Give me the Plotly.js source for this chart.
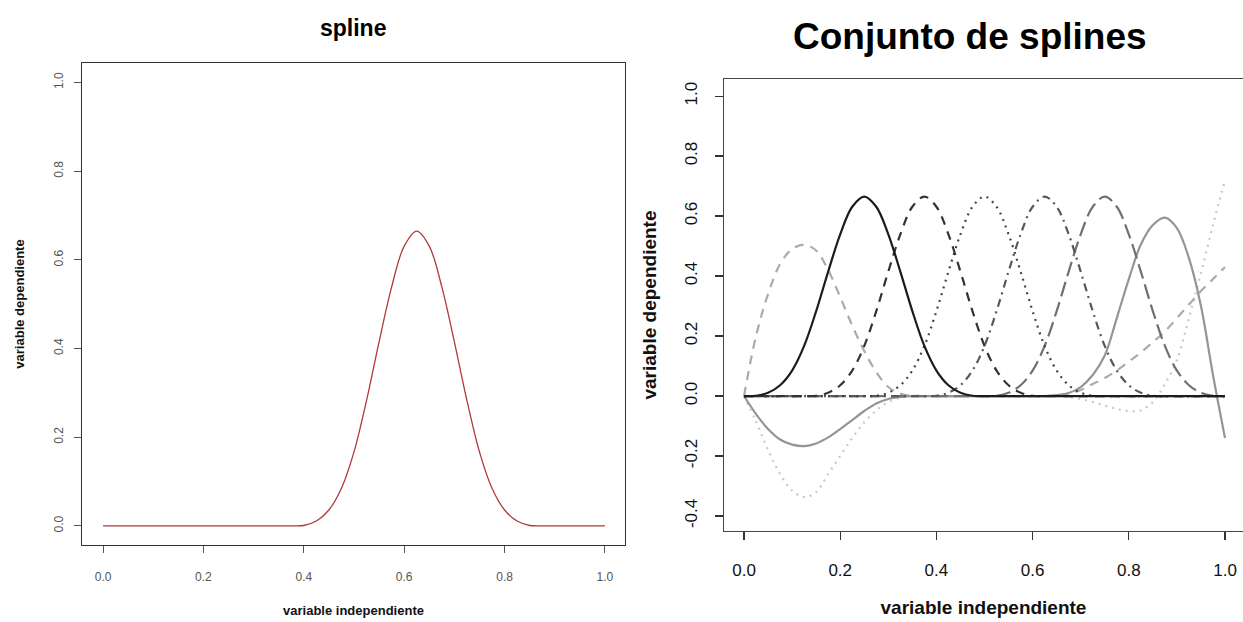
<!DOCTYPE html>
<html>
<head>
<meta charset="utf-8">
<script src="https://cdn.plot.ly/plotly-3.0.1.min.js"></script>
<style>
html,body{margin:0;padding:0;background:#fff;}
#chart{width:1243px;height:622px;}
</style>
</head>
<body>
<div id="chart"></div>
<script>
// Shared x grid (variable independiente)
const xGrid = [0,0.025,0.05,0.075,0.1,0.125,0.15,0.175,0.2,0.225,0.25,0.275,0.3,0.325,0.35,0.375,0.4,0.425,0.45,0.475,0.5,0.525,0.55,0.575,0.6,0.625,0.65,0.675,0.7,0.725,0.75,0.775,0.8,0.825,0.85,0.875,0.9,0.925,0.95,0.975,1];

// Left panel: single spline
const splineSingle = [0,0,0,0,0,0,0,0,0,0,0,0,0,0,0,0,0.001,0.011,0.036,0.085,0.167,0.283,0.415,0.539,0.631,0.665,0.631,0.539,0.415,0.283,0.167,0.085,0.036,0.011,0.001,0,0,0,0,0,0];

// Right panel: set of splines
const sBlack = [0,0.001,0.011,0.036,0.085,0.167,0.283,0.415,0.539,0.631,0.665,0.631,0.539,0.415,0.283,0.167,0.085,0.036,0.011,0.001,0,0,0,0,0,0,0,0,0,0,0,0,0,0,0,0,0,0,0,0,0];
const sDashed = [0,0,0,0,0,0,0.001,0.011,0.036,0.085,0.167,0.283,0.415,0.539,0.631,0.665,0.631,0.539,0.415,0.283,0.167,0.085,0.036,0.011,0.001,0,0,0,0,0,0,0,0,0,0,0,0,0,0,0,0];
const sDotted = [0,0,0,0,0,0,0,0,0,0,0,0.001,0.011,0.036,0.085,0.167,0.283,0.415,0.539,0.631,0.665,0.631,0.539,0.415,0.283,0.167,0.085,0.036,0.011,0.001,0,0,0,0,0,0,0,0,0,0,0];
const sDashDot = [0,0,0,0,0,0,0,0,0,0,0,0,0,0,0,0,0.001,0.011,0.036,0.085,0.167,0.283,0.415,0.539,0.631,0.665,0.631,0.539,0.415,0.283,0.167,0.085,0.036,0.011,0.001,0,0,0,0,0,0];
const sLongDash = [0,0,0,0,0,0,0,0,0,0,0,0,0,0,0,0,0,0,0,0,0,0.001,0.011,0.036,0.085,0.167,0.283,0.415,0.539,0.631,0.665,0.631,0.539,0.415,0.283,0.167,0.085,0.036,0.011,0.001,0];
const sGraySolid = [0,-0.06,-0.11,-0.145,-0.162,-0.167,-0.158,-0.138,-0.11,-0.08,-0.05,-0.025,-0.01,-0.003,0,0,0,0,0,0,0,0,0,0,0,0,0.003,0.01,0.03,0.07,0.135,0.26,0.39,0.505,0.57,0.595,0.56,0.46,0.3,0.07,-0.14];
const sLightDashed = [0,0.2,0.34,0.44,0.49,0.505,0.485,0.42,0.33,0.235,0.15,0.08,0.03,0.008,0,0,0,0,0,0,0,0,0,0,0,0,0.002,0.008,0.02,0.04,0.06,0.085,0.115,0.145,0.18,0.215,0.26,0.305,0.35,0.39,0.43];
const sLightDotted = [0,-0.085,-0.18,-0.26,-0.315,-0.337,-0.32,-0.26,-0.2,-0.14,-0.088,-0.048,-0.02,-0.006,0,0,0,0,0,0,0,0,0,0,0,0,0,-0.003,-0.01,-0.02,-0.032,-0.043,-0.05,-0.048,-0.02,0.04,0.12,0.26,0.41,0.57,0.72];

const xTicks = [0,0.2,0.4,0.6,0.8,1.0];
const xTickText = ['0.0','0.2','0.4','0.6','0.8','1.0'];
const yTicksLeft = [0,0.2,0.4,0.6,0.8,1.0];
const yTickTextLeft = ['0.0','0.2','0.4','0.6','0.8','1.0'];
const yTicksRight = [-0.4,-0.2,0,0.2,0.4,0.6,0.8,1.0];
const yTickTextRight = ['-0.4','-0.2','0.0','0.2','0.4','0.6','0.8','1.0'];

const W = 1243, H = 622;
const FONT = '"Liberation Sans", Arial, sans-serif';

function rightTrace(y, color, dash) {
  return {x: xGrid, y: y, xaxis: 'x2', yaxis: 'y2', type: 'scatter', mode: 'lines',
    line: {color: color, width: 2.2, dash: dash, shape: 'spline', smoothing: 1}, hoverinfo: 'skip'};
}

const traces = [
  {x: xGrid, y: splineSingle, xaxis: 'x', yaxis: 'y', type: 'scatter', mode: 'lines',
   line: {color: '#b0393b', width: 1.3, shape: 'spline', smoothing: 1}, hoverinfo: 'skip'},
  rightTrace(sLightDotted, '#c8c8c8', '2px,5px'),
  rightTrace(sLightDashed, '#ababab', '9px,7px'),
  rightTrace(sGraySolid, '#959595', 'solid'),
  rightTrace(sLongDash, '#707070', '15px,6px'),
  rightTrace(sDashDot, '#585858', '2px,5px,8px,5px'),
  rightTrace(sDotted, '#444444', '2px,5px'),
  rightTrace(sDashed, '#333333', '9px,7px'),
  rightTrace(sBlack, '#1c1c1c', 'solid')
];

const layout = {
  width: W, height: H,
  margin: {l: 0, r: 0, t: 0, b: 0},
  paper_bgcolor: '#ffffff', plot_bgcolor: '#ffffff',
  showlegend: false,
  font: {family: FONT, color: '#000'},
  xaxis: {
    domain: [82/W, 625/W], range: [-0.042, 1.040], anchor: 'y',
    tickmode: 'array', tickvals: xTicks, ticktext: xTickText,
    ticks: 'outside', ticklen: 7, tickwidth: 1, tickcolor: '#555',
    showline: true, mirror: true, linecolor: '#333', linewidth: 1,
    showgrid: false, zeroline: false,
    tickfont: {family: FONT, size: 12, color: '#555'}, ticklabelstandoff: 14,
    title: {text: '<b>variable independiente</b>', font: {family: FONT, size: 13, color: '#111'}, standoff: 22}
  },
  yaxis: {
    domain: [1 - 545/H, 1 - 63/H], range: [-0.043, 1.044], anchor: 'x',
    tickmode: 'array', tickvals: yTicksLeft, ticktext: yTickTextLeft, tickangle: -90,
    ticks: 'outside', ticklen: 7, tickwidth: 1, tickcolor: '#555',
    showline: true, mirror: true, linecolor: '#333', linewidth: 1,
    showgrid: false, zeroline: false,
    tickfont: {family: FONT, size: 12, color: '#555'}, ticklabelstandoff: 6,
    title: {text: '<b>variable dependiente</b>', font: {family: FONT, size: 13, color: '#111'}, standoff: 24}
  },
  xaxis2: {
    domain: [724/W, 1], range: [-0.0416, 1.0374], anchor: 'y2',
    tickmode: 'array', tickvals: xTicks, ticktext: xTickText,
    ticks: 'outside', ticklen: 8, tickwidth: 1.2, tickcolor: '#333',
    showline: true, mirror: true, linecolor: '#444', linewidth: 1.2,
    showgrid: false, zeroline: false,
    tickfont: {family: FONT, size: 17, color: '#111'}, ticklabelstandoff: 15,
    title: {text: '<b>variable independiente</b>', font: {family: FONT, size: 19, color: '#111'}, standoff: 22}
  },
  yaxis2: {
    domain: [1 - 531/H, 1 - 79/H], range: [-0.45, 1.057], anchor: 'x2',
    tickmode: 'array', tickvals: yTicksRight, ticktext: yTickTextRight, tickangle: -90,
    ticks: 'outside', ticklen: 8, tickwidth: 1.2, tickcolor: '#333',
    showline: true, mirror: true, linecolor: '#444', linewidth: 1.2,
    showgrid: false, zeroline: false,
    tickfont: {family: FONT, size: 17, color: '#111'}, ticklabelstandoff: 11,
    title: {text: '<b>variable dependiente</b>', font: {family: FONT, size: 19, color: '#111'}, standoff: 20}
  },
  annotations: [
    {text: '<b>spline</b>', xref: 'paper', yref: 'paper', x: 353/W, y: 1 - 28/H,
     xanchor: 'center', yanchor: 'middle', showarrow: false,
     font: {family: FONT, size: 23, color: '#000'}},
    {text: '<b>Conjunto de splines</b>', xref: 'paper', yref: 'paper', x: 970/W, y: 1 - 37/H,
     xanchor: 'center', yanchor: 'middle', showarrow: false,
     font: {family: FONT, size: 37, color: '#000'}}
  ]
};

Plotly.newPlot('chart', traces, layout, {displayModeBar: false, staticPlot: true});
</script>
</body>
</html>
